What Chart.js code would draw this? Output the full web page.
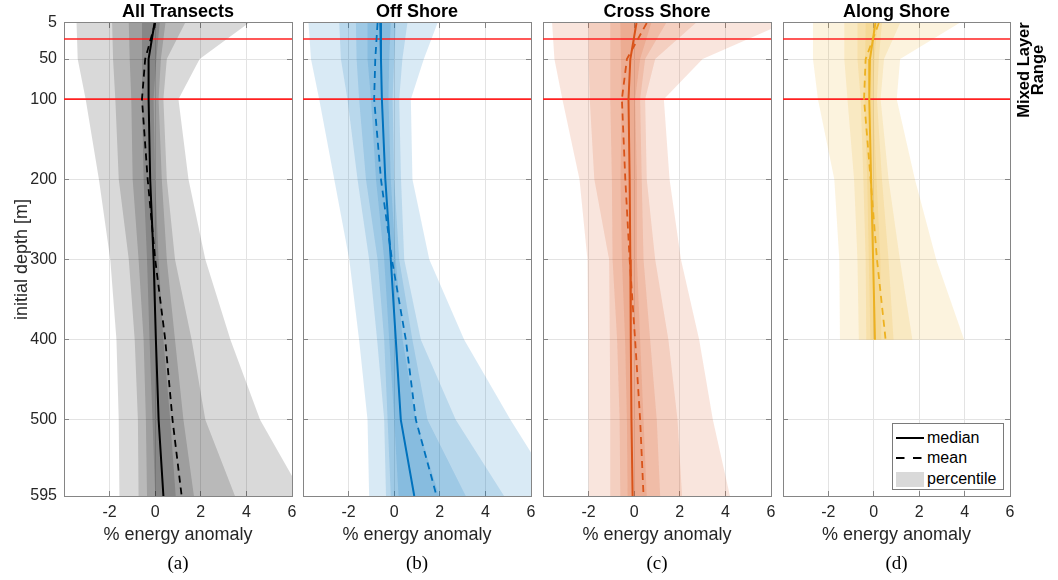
<!DOCTYPE html>
<html>
<head>
<meta charset="utf-8">
<title>Energy anomaly profiles</title>
<script src="https://cdn.jsdelivr.net/npm/chart.js@4.4.1/dist/chart.umd.min.js"></script>
<style>
  body { margin: 0; width: 1058px; height: 580px; background: #fff; position: relative; overflow: hidden;
         font-family: 'Liberation Sans', Arial, sans-serif; color: #262626; }
  .panel { position: absolute; top: 0; height: 580px; }
  .panel canvas { display: block; }
  #legend { position: absolute; left: 892px; top: 423px; width: 110px; height: 65px; background: #fff;
            border: 1px solid #7a7a7a; font-size: 16px; color: #000; }
  #legend .row { position: absolute; left: 3px; height: 20px; display: flex; align-items: center; }
  #legend svg { width: 28px; margin-right: 3px; }
  #mixed { position: absolute; left: 970px; top: 56px; width: 120px; text-align: center; font-weight: bold;
           font-size: 16.5px; line-height: 14px; color: #000; transform: rotate(-90deg); transform-origin: 60px 14px; }
</style>
</head>
<body>
<div class="panel" style="left:0;width:300px"><canvas id="panelA" width="300" height="580"></canvas></div>
<div class="panel" style="left:296px;width:242px"><canvas id="panelB" width="242" height="580"></canvas></div>
<div class="panel" style="left:536px;width:242px"><canvas id="panelC" width="242" height="580"></canvas></div>
<div class="panel" style="left:776px;width:241px"><canvas id="panelD" width="241" height="580"></canvas></div>

<div id="legend">
  <div class="row" style="top:4px"><svg height="4"><line x1="0" y1="2" x2="28" y2="2" stroke="#000" stroke-width="2"/></svg>median</div>
  <div class="row" style="top:24px"><svg height="4"><line x1="0" y1="2" x2="28" y2="2" stroke="#000" stroke-width="2" stroke-dasharray="8.5,8.5"/></svg>mean</div>
  <div class="row" style="top:45px"><svg height="15"><rect width="28" height="15" fill="#d9d9d9"/></svg>percentile</div>
</div>
<div id="mixed">Mixed Layer<br>Range</div>

<script>
/* ─── Data ───────────────────────────────────────────────────────────────── */
const depthLevels      = [5, 50, 100, 200, 300, 400, 500, 595];
const depthLevelsAlong = [5, 50, 100, 200, 300, 400];
const xTickValues      = [-2, 0, 2, 4, 6];
const yTickValues      = [5, 50, 100, 200, 300, 400, 500, 595];
const mixedLayerDepths = [25, 100];

// All transects (bands listed outer to inner)
const allMedian = [-0.03, -0.29, -0.29, -0.22, -0.07, 0.03, 0.15, 0.36];
const allMean   = [0.0, -0.44, -0.58, -0.33, 0.0, 0.44, 0.76, 1.16];
const allLow = [
  [-3.45, -3.4, -3.05, -2.47, -1.97, -1.7, -1.6, -1.57],
  [-1.89, -1.85, -1.75, -1.6, -1.16, -0.9, -0.76, -0.73],
  [-1.16, -1.12, -1.05, -0.99, -0.73, -0.51, -0.41, -0.36],
  [-0.58, -0.58, -0.58, -0.51, -0.36, -0.25, -0.12, 0.0],
];
const allHigh = [
  [4.1, 1.95, 1.02, 1.46, 2.2, 3.3, 4.6, 6.5],
  [1.31, 0.51, 0.36, 0.51, 0.87, 1.6, 2.2, 3.5],
  [0.45, 0.25, 0.15, 0.29, 0.51, 0.87, 1.24, 1.7],
  [0.2, 0.05, -0.07, 0.0, 0.15, 0.36, 0.66, 0.9],
];

// Off shore
const offMedian = [-0.61, -0.58, -0.54, -0.39, -0.15, 0.07, 0.29, 0.88];
const offMean   = [-0.73, -0.83, -0.88, -0.58, -0.1, 0.51, 0.95, 1.86];
const offLow = [
  [-3.76, -3.65, -3.29, -2.63, -1.97, -1.54, -1.17, -1.1],
  [-2.41, -2.34, -2.05, -1.61, -1.1, -0.75, -0.44, -0.36],
  [-1.68, -1.65, -1.54, -1.24, -0.73, -0.44, -0.29, -0.15],
  [-1.17, -1.17, -1.02, -0.8, -0.44, -0.22, 0.0, 0.19],
];
const offHigh = [
  [1.9, 1.3, 0.73, 0.8, 1.54, 3.07, 5.1, 7.2],
  [0.58, 0.36, 0.22, 0.3, 0.44, 1.17, 2.7, 4.82],
  [0.07, 0.0, -0.07, 0.0, 0.22, 0.8, 1.46, 3.14],
  [-0.15, -0.22, -0.25, -0.15, 0.07, 0.37, 0.95, 1.97],
];

// Cross shore
const crossMedian = [0.1, -0.17, -0.25, -0.2, -0.17, -0.15, -0.12, -0.07];
const crossMean   = [0.55, -0.32, -0.54, -0.39, -0.2, 0.04, 0.26, 0.41];
const crossLow = [
  [-3.6, -3.5, -3.15, -2.4, -2.05, -2.02, -2.0, -2.0],
  [-2.0, -2.0, -1.95, -1.75, -1.1, -1.07, -1.05, -1.05],
  [-1.05, -1.05, -1.05, -0.98, -0.95, -0.75, -0.64, -0.61],
  [-0.61, -0.58, -0.55, -0.6, -0.54, -0.4, -0.32, -0.29],
];
const crossHigh = [
  [6.6, 3.0, 1.3, 1.55, 2.05, 2.85, 3.45, 4.2],
  [2.7, 0.92, 0.48, 0.55, 0.92, 1.5, 1.9, 2.1],
  [1.4, 0.48, 0.26, 0.33, 0.41, 0.7, 0.99, 1.14],
  [0.75, 0.26, 0.04, 0.12, 0.12, 0.26, 0.41, 0.55],
];

// Along shore (no data below 400 m)
const alongMedian = [0.07, -0.17, -0.2, -0.12, -0.03, 0.05];
const alongMean   = [0.22, -0.36, -0.43, -0.14, 0.14, 0.52];
const alongLow = [
  [-2.68, -2.68, -2.46, -1.74, -1.52, -1.49],
  [-1.3, -1.3, -1.16, -0.87, -0.72, -0.66],
  [-0.72, -0.72, -0.58, -0.46, -0.36, -0.33],
  [-0.36, -0.38, -0.41, -0.29, -0.22, -0.15],
];
const alongHigh = [
  [3.77, 1.16, 1.01, 1.81, 2.75, 3.98],
  [1.16, 0.45, 0.3, 0.65, 1.15, 1.7],
  [0.36, 0.22, 0.14, 0.36, 0.65, 0.87],
  [0.17, 0.03, -0.03, 0.12, 0.29, 0.33],
];

/* ─── Shared style ───────────────────────────────────────────────────────── */
const SANS   = "'Liberation Sans', Arial, Helvetica, sans-serif";
const SERIF  = "'Liberation Serif', 'Times New Roman', serif";
const X_MIN  = -4, X_MAX = 6;
const GRID   = '#e3e3e3';
const FRAME  = '#858585';
const TEXT   = '#262626';

Chart.defaults.font.family = SANS;
Chart.defaults.color = TEXT;

function profile(depths, values) {
  return depths.map((d, i) => ({ x: values[i], y: d }));
}

// closed polygon: down the low edge, back up the high edge
function bandShape(depths, low, high) {
  const down = depths.map((d, i) => ({ x: low[i], y: d }));
  const up   = depths.map((d, i) => ({ x: high[i], y: d })).reverse();
  return down.concat(up);
}

const setTicks = values => axis => { axis.ticks = values.map(v => ({ value: v })); };

// fixed axis size, and no extra room reserved for edge labels
const fixSize = (key, size) => axis => {
  axis[key] = size;
  axis.paddingLeft = axis.paddingRight = axis.paddingTop = axis.paddingBottom = 0;
};

function makePanel(canvasId, p) {
  const datasets = [
    { data: profile(p.depths, p.median), borderColor: p.color, borderWidth: 2 },
    { data: profile(p.depths, p.mean), borderColor: p.color, borderWidth: 1.8, borderDash: [7, 5] },
  ];
  mixedLayerDepths.forEach(d => datasets.push({
    data: [{ x: X_MIN, y: d }, { x: X_MAX, y: d }], borderColor: '#ff2020', borderWidth: 1.6,
  }));
  p.low.forEach((low, k) => datasets.push({
    data: bandShape(p.depths, low, p.high[k]),
    borderColor: 'transparent', borderWidth: 0,
    backgroundColor: p.band, fill: 'shape',
  }));
  datasets.forEach(ds => {
    ds.showLine = true;
    ds.pointRadius = 0;
    if (!ds.fill) ds.fill = false;
  });

  const first = p.showY;

  return new Chart(document.getElementById(canvasId), {
    type: 'scatter',
    data: { datasets },
    options: {
      responsive: false,
      devicePixelRatio: 1,
      animation: false,
      events: [],
      layout: { padding: { left: 0, right: p.padRight, top: 0, bottom: 0 } },
      plugins: {
        legend: { display: false },
        tooltip: { enabled: false },
        title: {
          display: true, text: p.title, color: '#000', fullSize: false,
          font: { family: SANS, size: 18, weight: 'bold', lineHeight: 1.2 },
          padding: { top: 1.4, bottom: 0 },
        },
        subtitle: {
          display: true, text: p.tag, position: 'bottom', color: '#000', fullSize: false,
          font: { family: SERIF, size: 19, lineHeight: 1.2 },
          padding: { top: 4, bottom: 5 },
        },
      },
      scales: {
        x: {
          type: 'linear', position: 'bottom', min: X_MIN, max: X_MAX,
          afterBuildTicks: setTicks(xTickValues),
          afterFit: fixSize('height', 52.2),
          ticks: { font: { size: 16 }, padding: 12, autoSkip: false, maxRotation: 0 },
          grid: { color: GRID, tickColor: FRAME, tickLength: -5 },
          border: { color: FRAME },
          title: { display: true, text: '% energy anomaly', font: { size: 18, lineHeight: 1.2 },
                   padding: { top: 0, bottom: 2 } },
        },
        x2: {
          type: 'linear', position: 'top', min: X_MIN, max: X_MAX,
          afterBuildTicks: setTicks(xTickValues),
          afterFit: fixSize('height', 0),
          ticks: { display: false },
          grid: { drawOnChartArea: false, tickColor: FRAME, tickLength: -5 },
          border: { color: FRAME },
        },
        y: {
          type: 'linear', position: 'left', reverse: true, min: 5, max: 595,
          afterBuildTicks: setTicks(yTickValues),
          afterFit: fixSize('width', p.yWidth),
          ticks: { display: first, font: { size: 16 }, padding: 12, autoSkip: false },
          grid: { color: GRID, tickColor: FRAME, tickLength: -5 },
          border: { color: FRAME },
          title: { display: first, text: 'initial depth [m]', font: { size: 18, lineHeight: 1.2 },
                   padding: { top: 11.2, bottom: 0 } },
        },
        y2: {
          type: 'linear', position: 'right', reverse: true, min: 5, max: 595,
          afterBuildTicks: setTicks(yTickValues),
          afterFit: fixSize('width', 0),
          ticks: { display: false },
          grid: { drawOnChartArea: false, tickColor: FRAME, tickLength: -5 },
          border: { color: FRAME },
        },
      },
    },
  });
}

/* ─── Panels ─────────────────────────────────────────────────────────────── */
makePanel('panelA', {
  title: 'All Transects', tag: '(a)', depths: depthLevels,
  median: allMedian, mean: allMean, low: allLow, high: allHigh,
  color: '#000000', band: 'rgba(0,0,0,0.15)',
  showY: true, yWidth: 64, padRight: 8,
});
makePanel('panelB', {
  title: 'Off Shore', tag: '(b)', depths: depthLevels,
  median: offMedian, mean: offMean, low: offLow, high: offHigh,
  color: '#0072BD', band: 'rgba(0,114,189,0.15)',
  showY: false, yWidth: 7, padRight: 7,
});
makePanel('panelC', {
  title: 'Cross Shore', tag: '(c)', depths: depthLevels,
  median: crossMedian, mean: crossMean, low: crossLow, high: crossHigh,
  color: '#D95319', band: 'rgba(217,83,25,0.15)',
  showY: false, yWidth: 7, padRight: 7,
});
makePanel('panelD', {
  title: 'Along Shore', tag: '(d)', depths: depthLevelsAlong,
  median: alongMedian, mean: alongMean, low: alongLow, high: alongHigh,
  color: '#EDB120', band: 'rgba(237,177,32,0.15)',
  showY: false, yWidth: 7, padRight: 7,
});
</script>
</body>
</html>
